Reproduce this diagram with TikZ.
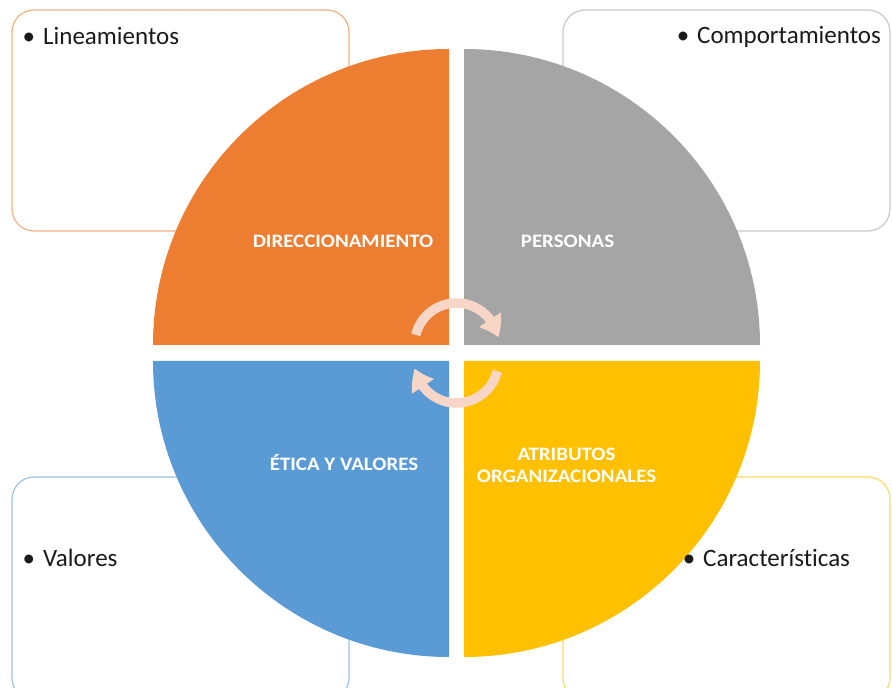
\documentclass[tikz,border=0pt]{standalone}
\usepackage{fontspec}
\setmainfont{Carlito}[Ligatures=NoCommon]
\newfontfamily\labelfont{Carlito}[FakeStretch=1.1, Ligatures=NoCommon]
\usetikzlibrary{arrows.meta,bending}
\definecolor{qorange}{HTML}{ED7D31}
\definecolor{qgray}{HTML}{A5A5A5}
\definecolor{qblue}{HTML}{5B9BD5}
\definecolor{qyellow}{HTML}{FFC000}
\definecolor{lorange}{HTML}{F4B183}
\definecolor{lgray}{HTML}{C9C9C9}
\definecolor{lblue}{HTML}{9DC3E6}
\definecolor{lyellow}{HTML}{FFD966}
\definecolor{peach}{HTML}{F7D6C8}
\definecolor{inktext}{HTML}{1A1A1A}
\tikzset{
  infobox/.style={rounded corners=22pt, line width=1.2pt, fill=white},
  bullettext/.style={anchor=base west, inner sep=0pt, text=inktext,
    font=\fontsize{25}{29}\selectfont},
  quadlabel/.style={inner sep=0pt, text=white, align=center,
    font=\labelfont\fontsize{19}{21}\selectfont\bfseries},
  cyclearrow/.style={draw=peach, line width=9.5pt,
    -{Triangle[width=25pt,length=20pt,bend]}}
}
\newcommand{\bul}{\llap{•\hspace{8pt}}}
\begin{document}
\begin{tikzpicture}[x=1pt,y=1pt]
\useasboundingbox (0,0) rectangle (892,688);
\begin{scope}
\clip (0,0) rectangle (892,688);
% detail boxes behind the circle
\draw[infobox, draw=lorange] (12,678) rectangle (349,457);
\draw[infobox, draw=lgray]   (563,678) rectangle (890,457);
\draw[infobox, draw=lblue]   (12,211) rectangle (349,-12);
\draw[infobox, draw=lyellow] (563,211) rectangle (890,-12);
\end{scope}
% four quarter circles
\fill[qorange] (449,343) -- ++(-296,0) arc (180:90:296) -- cycle;
\fill[qgray]   (464,343) -- ++(0,296) arc (90:0:296) -- cycle;
\fill[qblue]   (449,327) -- ++(-296,0) arc (180:270:296) -- cycle;
\fill[qyellow] (464,327) -- ++(296,0) arc (0:-90:296) -- cycle;
% centres of the cycle arrows
\coordinate (cu) at (456.5,343);
\coordinate (cl) at (456.5,327);
\draw[cyclearrow] ([shift={(166:42)}]cu) arc (166:10:42);
\draw[cyclearrow] ([shift={(-14:42)}]cl) arc (-14:-170:42);
% quadrant labels
\node[quadlabel, anchor=base] (dir) at (343,440) {DIRECCIONAMIENTO};
\node[quadlabel, anchor=base] (per) at (567.5,440) {PERSONAS};
\node[quadlabel, anchor=base] (eti) at (344,217) {ÉTICA Y VALORES};
\node[quadlabel, anchor=base] (atr1) at (566.5,227) {ATRIBUTOS};
\node[quadlabel, anchor=base] (atr2) at (566.5,205) {ORGANIZACIONALES};
% bullet texts
\node[bullettext] (lin) at (43,643) {\bul Lineamientos};
\node[bullettext] (com) at (697,644) {\bul Comportamientos};
\node[bullettext] (val) at (43,121) {\bul Valores};
\node[bullettext] (car) at (703,121) {\bul Características};
\end{tikzpicture}
\end{document}
